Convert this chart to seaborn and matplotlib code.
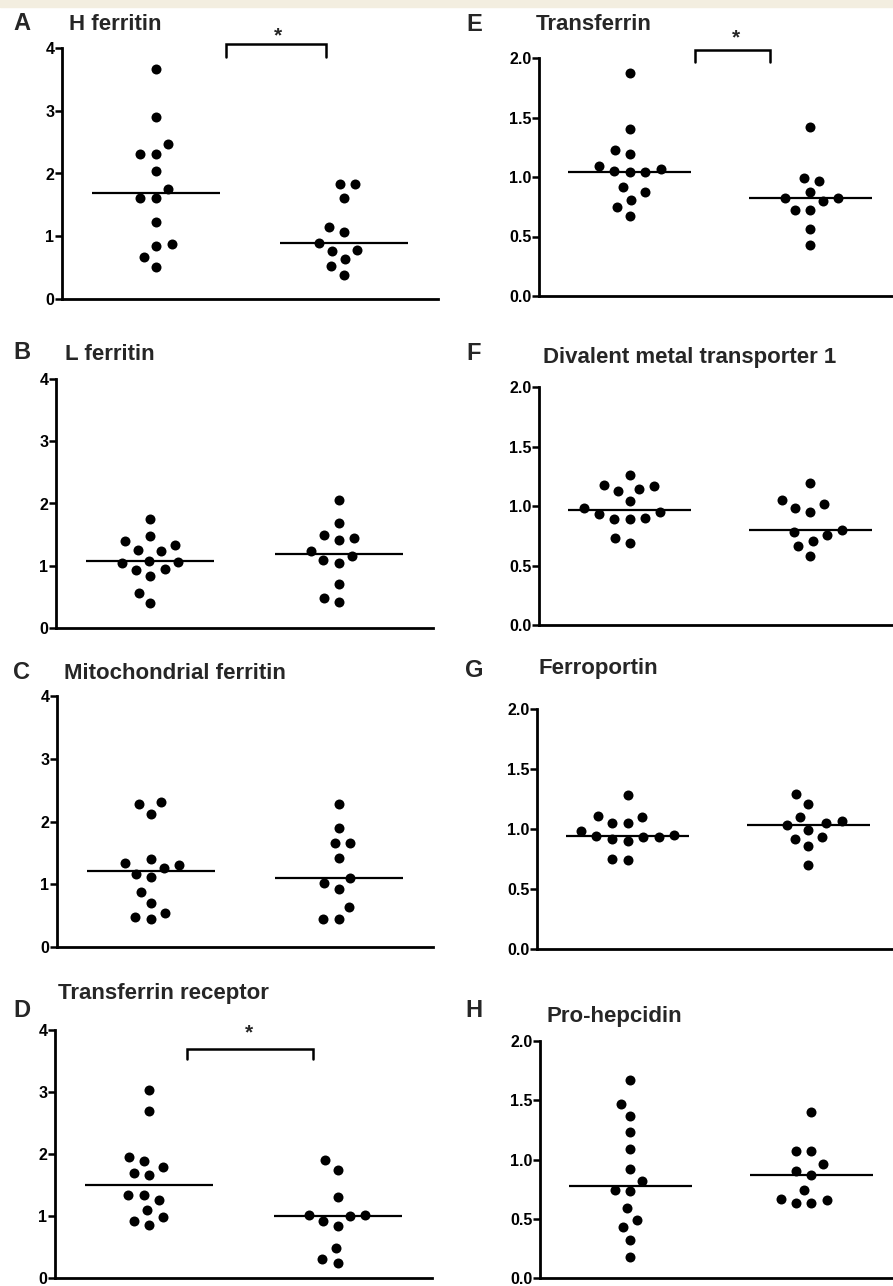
import matplotlib
matplotlib.use("Agg")
import matplotlib.pyplot as plt
import pandas as pd
import seaborn as sns

W, H = 893, 1286
GROUPS = ["Group 1", "Group 2"]

# values (relative expression)
h_ferritin_1 = [3.67, 2.90, 2.47, 2.31, 2.31, 2.04, 1.76, 1.61, 1.61, 1.23, 0.88, 0.84, 0.67, 0.51]
h_ferritin_2 = [1.84, 1.84, 1.61, 1.14, 1.06, 0.90, 0.78, 0.76, 0.63, 0.52, 0.38]
l_ferritin_1 = [1.75, 1.48, 1.39, 1.33, 1.25, 1.24, 1.08, 1.06, 1.04, 0.94, 0.93, 0.84, 0.57, 0.40]
l_ferritin_2 = [2.05, 1.69, 1.50, 1.44, 1.41, 1.23, 1.16, 1.09, 1.04, 0.71, 0.48, 0.41]
mito_ferritin_1 = [2.31, 2.28, 2.12, 1.40, 1.34, 1.30, 1.26, 1.17, 1.12, 0.88, 0.70, 0.54, 0.48, 0.44]
mito_ferritin_2 = [2.28, 1.90, 1.66, 1.65, 1.42, 1.10, 1.02, 0.93, 0.64, 0.45, 0.45]
tf_receptor_1 = [3.04, 2.70, 1.95, 1.89, 1.79, 1.70, 1.66, 1.34, 1.34, 1.26, 1.10, 0.98, 0.92, 0.86]
tf_receptor_2 = [1.90, 1.75, 1.30, 1.02, 1.02, 1.00, 0.92, 0.84, 0.49, 0.31, 0.25]
transferrin_1 = [1.87, 1.40, 1.23, 1.19, 1.09, 1.07, 1.05, 1.04, 1.04, 0.92, 0.87, 0.81, 0.75, 0.67]
transferrin_2 = [1.42, 0.99, 0.97, 0.87, 0.82, 0.82, 0.80, 0.72, 0.72, 0.56, 0.43]
dmt1_1 = [1.26, 1.18, 1.17, 1.14, 1.13, 1.04, 0.98, 0.95, 0.93, 0.90, 0.89, 0.89, 0.73, 0.69]
dmt1_2 = [1.19, 1.05, 1.02, 0.98, 0.95, 0.80, 0.78, 0.76, 0.71, 0.66, 0.58]
ferroportin_1 = [1.28, 1.11, 1.10, 1.05, 1.05, 0.98, 0.95, 0.94, 0.93, 0.93, 0.92, 0.90, 0.75, 0.74]
ferroportin_2 = [1.29, 1.21, 1.10, 1.07, 1.05, 1.03, 0.99, 0.93, 0.92, 0.86, 0.70]
prohepcidin_1 = [1.67, 1.47, 1.37, 1.23, 1.09, 0.92, 0.82, 0.74, 0.73, 0.59, 0.49, 0.43, 0.32, 0.18]
prohepcidin_2 = [1.40, 1.07, 1.07, 0.96, 0.90, 0.87, 0.74, 0.67, 0.66, 0.63, 0.63]

panels = [
    ("A", "H ferritin", h_ferritin_1, h_ferritin_2),
    ("B", "L ferritin", l_ferritin_1, l_ferritin_2),
    ("C", "Mitochondrial ferritin", mito_ferritin_1, mito_ferritin_2),
    ("D", "Transferrin receptor", tf_receptor_1, tf_receptor_2),
    ("E", "Transferrin", transferrin_1, transferrin_2),
    ("F", "Divalent metal transporter 1", dmt1_1, dmt1_2),
    ("G", "Ferroportin", ferroportin_1, ferroportin_2),
    ("H", "Pro-hepcidin", prohepcidin_1, prohepcidin_2),
]

# axes box in pixels: left, top, right, bottom
boxes = {
    "A": (62, 48, 438, 299), "B": (56, 379, 433, 628),
    "C": (57, 696, 433, 947), "D": (55, 1030, 432, 1278),
    "E": (539, 58, 901, 296), "F": (539, 387, 901, 625),
    "G": (537, 709, 899, 949), "H": (540, 1041, 902, 1278),
}
# letter x, letter baseline, title x, title baseline (pixels)
labels_px = {
    "A": (13, 30, 69, 30), "B": (13, 359, 65, 360),
    "C": (13, 679, 64, 679), "D": (13, 1017, 58, 999),
    "E": (466, 31, 536, 30), "F": (466, 360, 543, 363),
    "G": (465, 677, 538, 674), "H": (465, 1017, 547, 1022),
}
# significance brackets: x0, x1, leg bottom, top, star x, star baseline (data units)
brackets = {
    "A": (0.374, 0.904, 3.86, 4.06, 0.647, 4.11),
    "D": (0.20, 0.87, 3.54, 3.70, 0.53, 3.86),
    "E": (0.363, 0.779, 1.97, 2.07, 0.59, 2.12),
}

sns.set_theme(style="ticks")
plt.rcParams["font.family"] = ["Liberation Sans", "DejaVu Sans"]
plt.rcParams["font.weight"] = "bold"

fig = plt.figure(figsize=(W / 100, H / 100), dpi=100)
fig.patches.append(plt.Rectangle((0, 1 - 7 / H), 1, 7 / H, transform=fig.transFigure,
                                 color="#f3eee0", zorder=0))

for letter, title, g1, g2 in panels:
    l, t, r, b = boxes[letter]
    ax = fig.add_axes([l / W, 1 - b / H, (r - l) / W, (b - t) / H])
    df = pd.DataFrame({"group": [GROUPS[0]] * len(g1) + [GROUPS[1]] * len(g2),
                       "value": list(g1) + list(g2)})

    # transparent wide edge only widens the swarm spacing (Prism-like look)
    sns.swarmplot(data=df, x="group", y="value", order=GROUPS, color="black",
                  size=7.2, linewidth=3.6, edgecolor=(0, 0, 0, 0), ax=ax)
    sns.boxplot(data=df, x="group", y="value", order=GROUPS, width=0.68,
                showbox=False, showcaps=False, showfliers=False,
                whiskerprops={"visible": False},
                medianprops={"color": "black", "linewidth": 1.6}, ax=ax)

    big = letter in "ABCD"
    if big:
        ax.set_ylim(0, 4)
        ax.set_yticks([0, 1, 2, 3, 4])
        ax.set_yticklabels(["0", "1", "2", "3", "4"])
    else:
        ax.set_ylim(0, 2)
        ax.set_yticks([0, 0.5, 1.0, 1.5, 2.0])
        ax.set_yticklabels(["0.0", "0.5", "1.0", "1.5", "2.0"])
    ax.set_xlim(-0.5, 1.5)
    ax.set_xticks([])
    ax.set_xlabel("")
    ax.set_ylabel("")
    sns.despine(ax=ax)
    for s in ["left", "bottom"]:
        ax.spines[s].set_linewidth(2.0)
        ax.spines[s].set_color("black")
    ax.tick_params(axis="y", direction="out", length=5, width=1.8, pad=0.5,
                   labelsize=11.5, colors="black")
    for lab in ax.get_yticklabels():
        lab.set_fontweight("bold")

    if letter in brackets:
        x0, x1, y0, y1, sx, sy = brackets[letter]
        ax.plot([x0, x0, x1, x1], [y0, y1, y1, y0], color="black", lw=1.8,
                clip_on=False, solid_joinstyle="miter")
        ax.text(sx, sy, "*", ha="center", va="baseline", fontsize=15,
                fontweight="bold", clip_on=False)

    lx, ly, tx, ty = labels_px[letter]
    fig.text(lx / W, 1 - ly / H, letter, fontsize=17, fontweight="bold",
             ha="left", va="baseline")
    fig.text(tx / W, 1 - ty / H, title, fontsize=16, fontweight="bold",
             ha="left", va="baseline")

fig.savefig("out.png", dpi=100)
